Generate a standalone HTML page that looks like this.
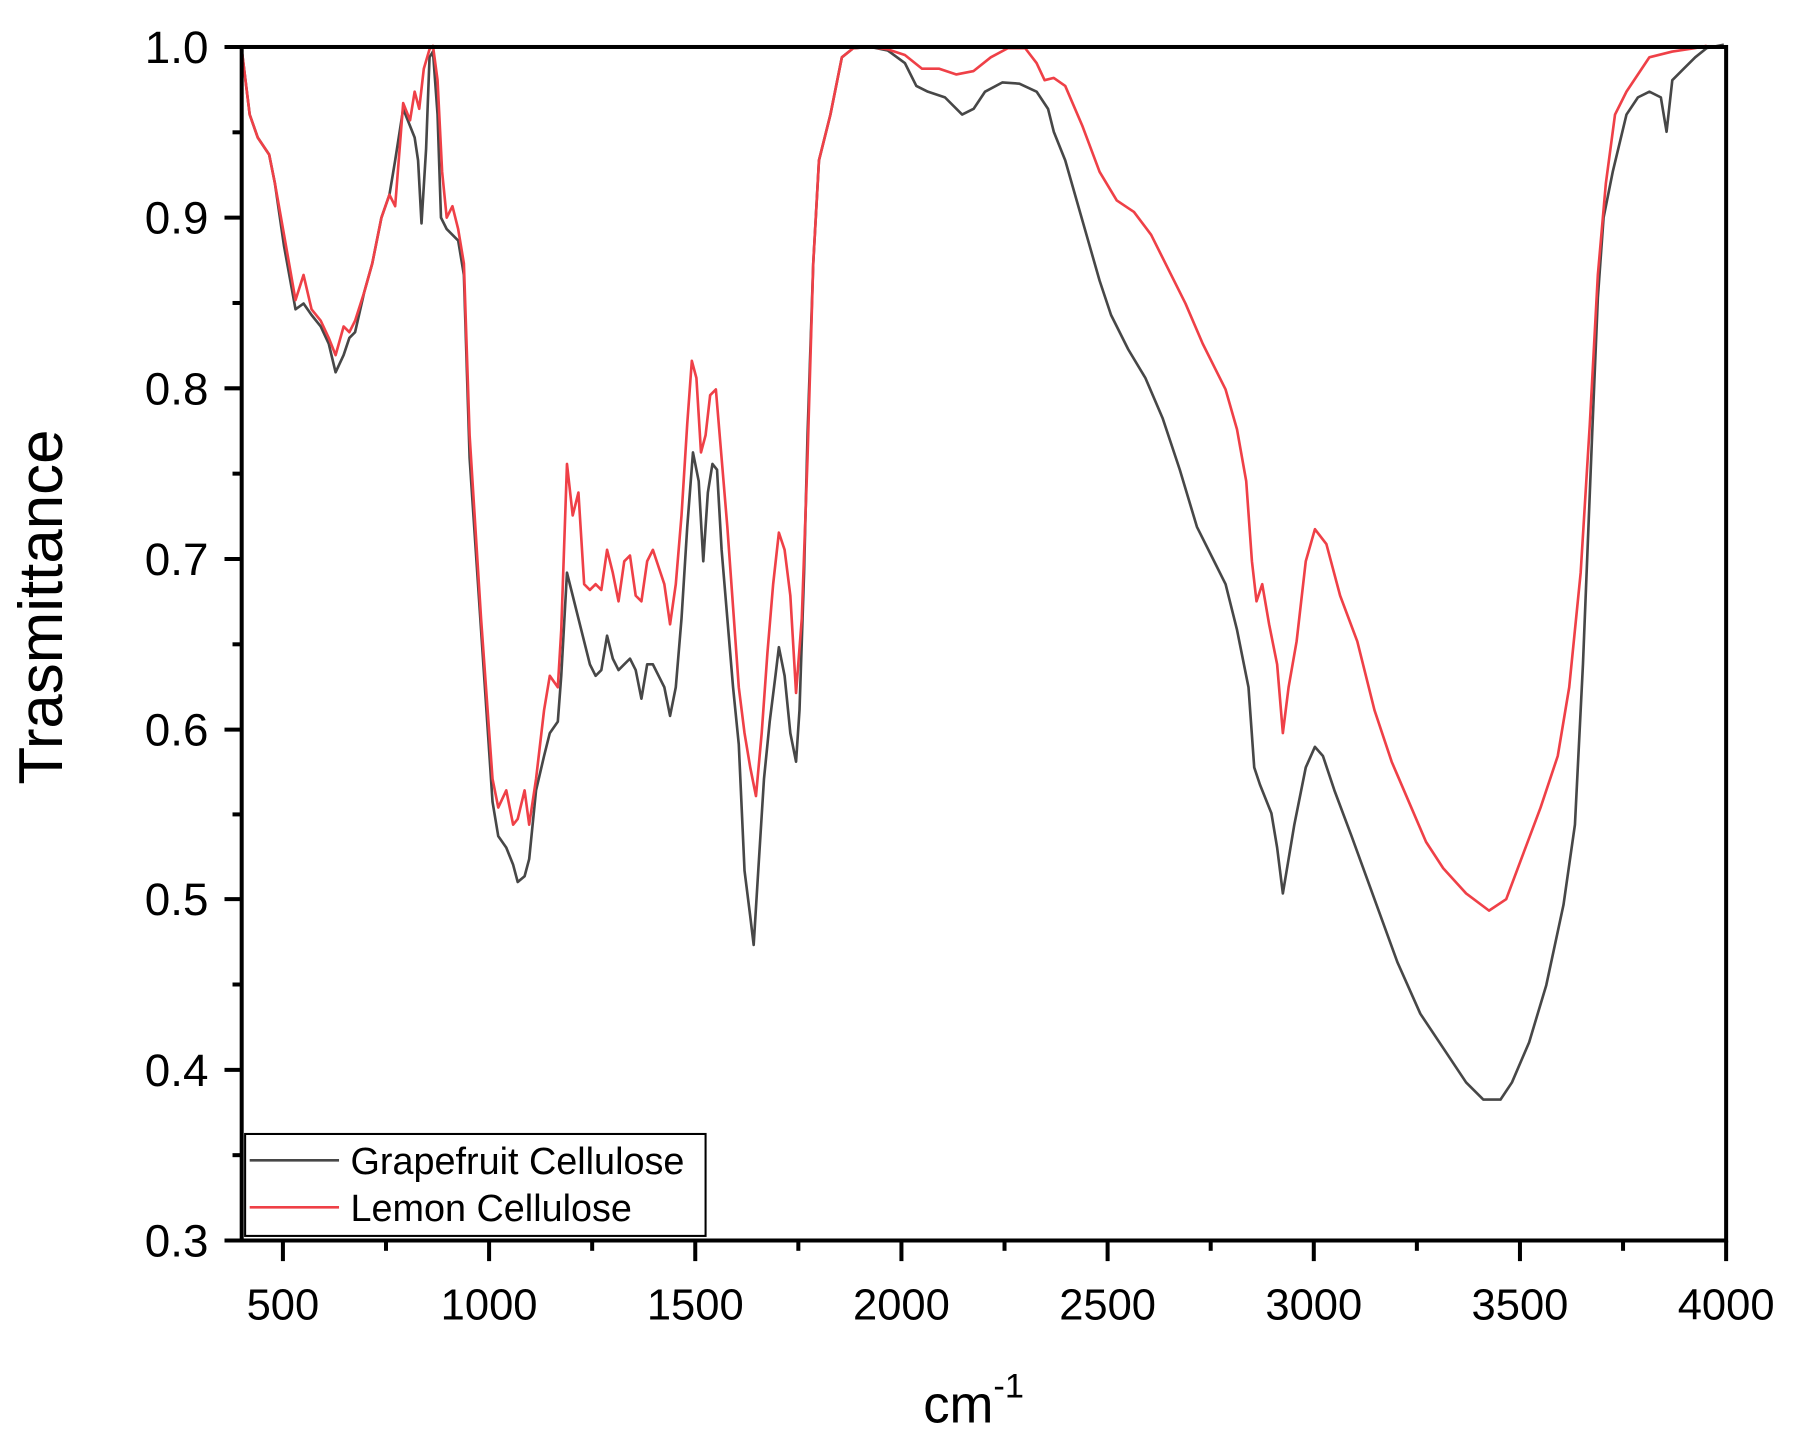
<!DOCTYPE html>
<html><head><meta charset="utf-8"><style>html,body{margin:0;padding:0;background:#fff}svg{display:block}</style></head>
<body>
<svg width="1796" height="1446" viewBox="0 0 1568 1262.4" xmlns="http://www.w3.org/2000/svg" font-family="Liberation Sans, Arial, sans-serif">
<rect width="1568" height="1262.4" fill="#fff"/>
<g fill="none" stroke-linejoin="round" stroke-width="2.3">
<polyline stroke="#474747" points="211,43 218,100 225,120 235,135 240,160 248,215 258,270 265,265 272,275 280,285 287,300 293,325 300,310 305,295 310,290 318,255 325,230 333,190 340,170 345,140 352,95 358,110 362,120 365,140 368,195 372,130 375,50 378,45 382,100 385,190 390,200 395,205 400,210 405,240 410,400 420,550 430,700 435,730 442,740 448,755 452,770 458,765 462,750 468,690 475,660 480,640 487,630 490,590 495,500 500,520 505,540 510,560 515,580 520,590 525,585 530,555 535,575 540,585 545,580 550,575 555,585 560,610 565,580 570,580 575,590 580,600 585,625 590,600 595,540 600,460 605,395 610,420 614,490 618,430 622,405 626,410 630,480 635,540 640,600 645,650 650,760 655,800 658,825 662,760 667,680 672,630 677,590 680,565 685,590 690,640 695,665 698,620 702,500 705,380 710,230 715,140 725,100 735,50 745,42 760,41 775,44 790,55 800,75 810,80 825,85 840,100 850,95 860,80 875,72 890,73 905,80 915,95 920,115 930,140 940,175 950,210 960,245 970,275 985,305 1000,330 1015,365 1030,410 1045,460 1060,490 1070,510 1080,550 1090,600 1095,670 1100,685 1110,710 1115,740 1120,780 1125,750 1130,720 1140,670 1148,652 1155,660 1165,690 1180,730 1200,785 1220,840 1240,885 1260,915 1280,945 1295,960 1310,960 1320,945 1335,910 1350,860 1365,790 1375,720 1382,580 1390,380 1395,260 1400,190 1408,150 1420,100 1430,85 1440,80 1450,85 1455,115 1460,70 1470,60 1480,50 1490,42 1505,39"/>
<polyline stroke="#ef4047" points="211,43 218,100 225,120 235,135 240,160 248,205 258,262 265,240 272,270 280,280 287,295 293,310 300,285 305,290 310,280 318,255 325,230 333,190 340,170 345,180 352,90 358,105 362,80 366,95 370,60 375,43 378,40 382,70 386,150 390,190 395,180 400,200 405,230 410,380 420,540 430,680 435,705 442,690 448,720 452,715 458,690 462,720 468,680 475,620 480,590 487,600 490,550 495,405 500,450 505,430 510,510 515,515 520,510 525,515 530,480 535,500 540,525 545,490 550,485 555,520 560,525 565,490 570,480 575,495 580,510 585,545 590,510 595,450 600,370 604,315 608,330 612,395 616,380 620,345 625,340 630,400 635,460 640,530 645,600 650,640 655,670 660,695 665,640 670,570 675,510 680,465 685,480 690,520 695,605 700,540 705,400 710,230 715,140 725,100 735,50 745,42 760,41 775,43 790,48 805,60 820,60 835,65 850,62 865,50 880,42 895,42 905,55 912,70 920,68 930,75 945,110 960,150 975,175 990,185 1005,205 1020,235 1035,265 1050,300 1060,320 1070,340 1080,375 1088,420 1093,490 1097,525 1102,510 1108,545 1115,580 1120,640 1125,600 1132,560 1140,490 1148,462 1158,475 1170,520 1185,560 1200,620 1215,665 1230,700 1245,735 1260,758 1280,780 1300,795 1315,785 1330,745 1345,705 1360,660 1370,600 1380,500 1388,370 1395,240 1402,160 1410,100 1420,80 1440,50 1460,45 1480,42 1490,40"/>
</g>
<rect x="211" y="41" width="1296" height="1042" fill="none" stroke="#000" stroke-width="3.5"/>
<g stroke="#000" stroke-width="3.5">
<line x1="196" y1="41" x2="211" y2="41"/><line x1="196" y1="190" x2="211" y2="190"/><line x1="196" y1="339" x2="211" y2="339"/><line x1="196" y1="488" x2="211" y2="488"/><line x1="196" y1="637" x2="211" y2="637"/><line x1="196" y1="785" x2="211" y2="785"/><line x1="196" y1="934" x2="211" y2="934"/><line x1="196" y1="1083" x2="211" y2="1083"/>
<line x1="203" y1="115.5" x2="211" y2="115.5"/><line x1="203" y1="264.5" x2="211" y2="264.5"/><line x1="203" y1="413.5" x2="211" y2="413.5"/><line x1="203" y1="562.5" x2="211" y2="562.5"/><line x1="203" y1="711" x2="211" y2="711"/><line x1="203" y1="859.5" x2="211" y2="859.5"/><line x1="203" y1="1008.5" x2="211" y2="1008.5"/>
<line x1="247" y1="1083" x2="247" y2="1101"/><line x1="427" y1="1083" x2="427" y2="1101"/><line x1="607" y1="1083" x2="607" y2="1101"/><line x1="787" y1="1083" x2="787" y2="1101"/><line x1="967" y1="1083" x2="967" y2="1101"/><line x1="1147" y1="1083" x2="1147" y2="1101"/><line x1="1327" y1="1083" x2="1327" y2="1101"/><line x1="1507" y1="1083" x2="1507" y2="1101"/>
<line x1="337" y1="1083" x2="337" y2="1092"/><line x1="517" y1="1083" x2="517" y2="1092"/><line x1="697" y1="1083" x2="697" y2="1092"/><line x1="877" y1="1083" x2="877" y2="1092"/><line x1="1057" y1="1083" x2="1057" y2="1092"/><line x1="1237" y1="1083" x2="1237" y2="1092"/><line x1="1417" y1="1083" x2="1417" y2="1092"/>
</g>
<g font-size="40" text-anchor="end" fill="#000">
<text x="182" y="55">1.0</text><text x="182" y="204">0.9</text><text x="182" y="353">0.8</text><text x="182" y="502">0.7</text><text x="182" y="651">0.6</text><text x="182" y="799">0.5</text><text x="182" y="948">0.4</text><text x="182" y="1097">0.3</text>
</g>
<g font-size="38" text-anchor="middle" fill="#000">
<text x="247" y="1152">500</text><text x="427" y="1152">1000</text><text x="607" y="1152">1500</text><text x="787" y="1152">2000</text><text x="967" y="1152">2500</text><text x="1147" y="1152">3000</text><text x="1327" y="1152">3500</text><text x="1507" y="1152">4000</text>
</g>
<text x="806" y="1242" font-size="46">cm<tspan font-size="30" dy="-22">-1</tspan></text>
<text transform="translate(54,530) rotate(-90)" font-size="54" text-anchor="middle">Trasmittance</text>
<rect x="214" y="990" width="402" height="89" fill="#fff" stroke="#000" stroke-width="1.8"/>
<line x1="218" y1="1013" x2="296" y2="1013" stroke="#474747" stroke-width="2.3"/>
<line x1="218" y1="1054" x2="296" y2="1054" stroke="#ef4047" stroke-width="2.3"/>
<text x="306" y="1025" font-size="33">Grapefruit Cellulose</text>
<text x="306" y="1066" font-size="33">Lemon Cellulose</text>
</svg>
</body></html>
